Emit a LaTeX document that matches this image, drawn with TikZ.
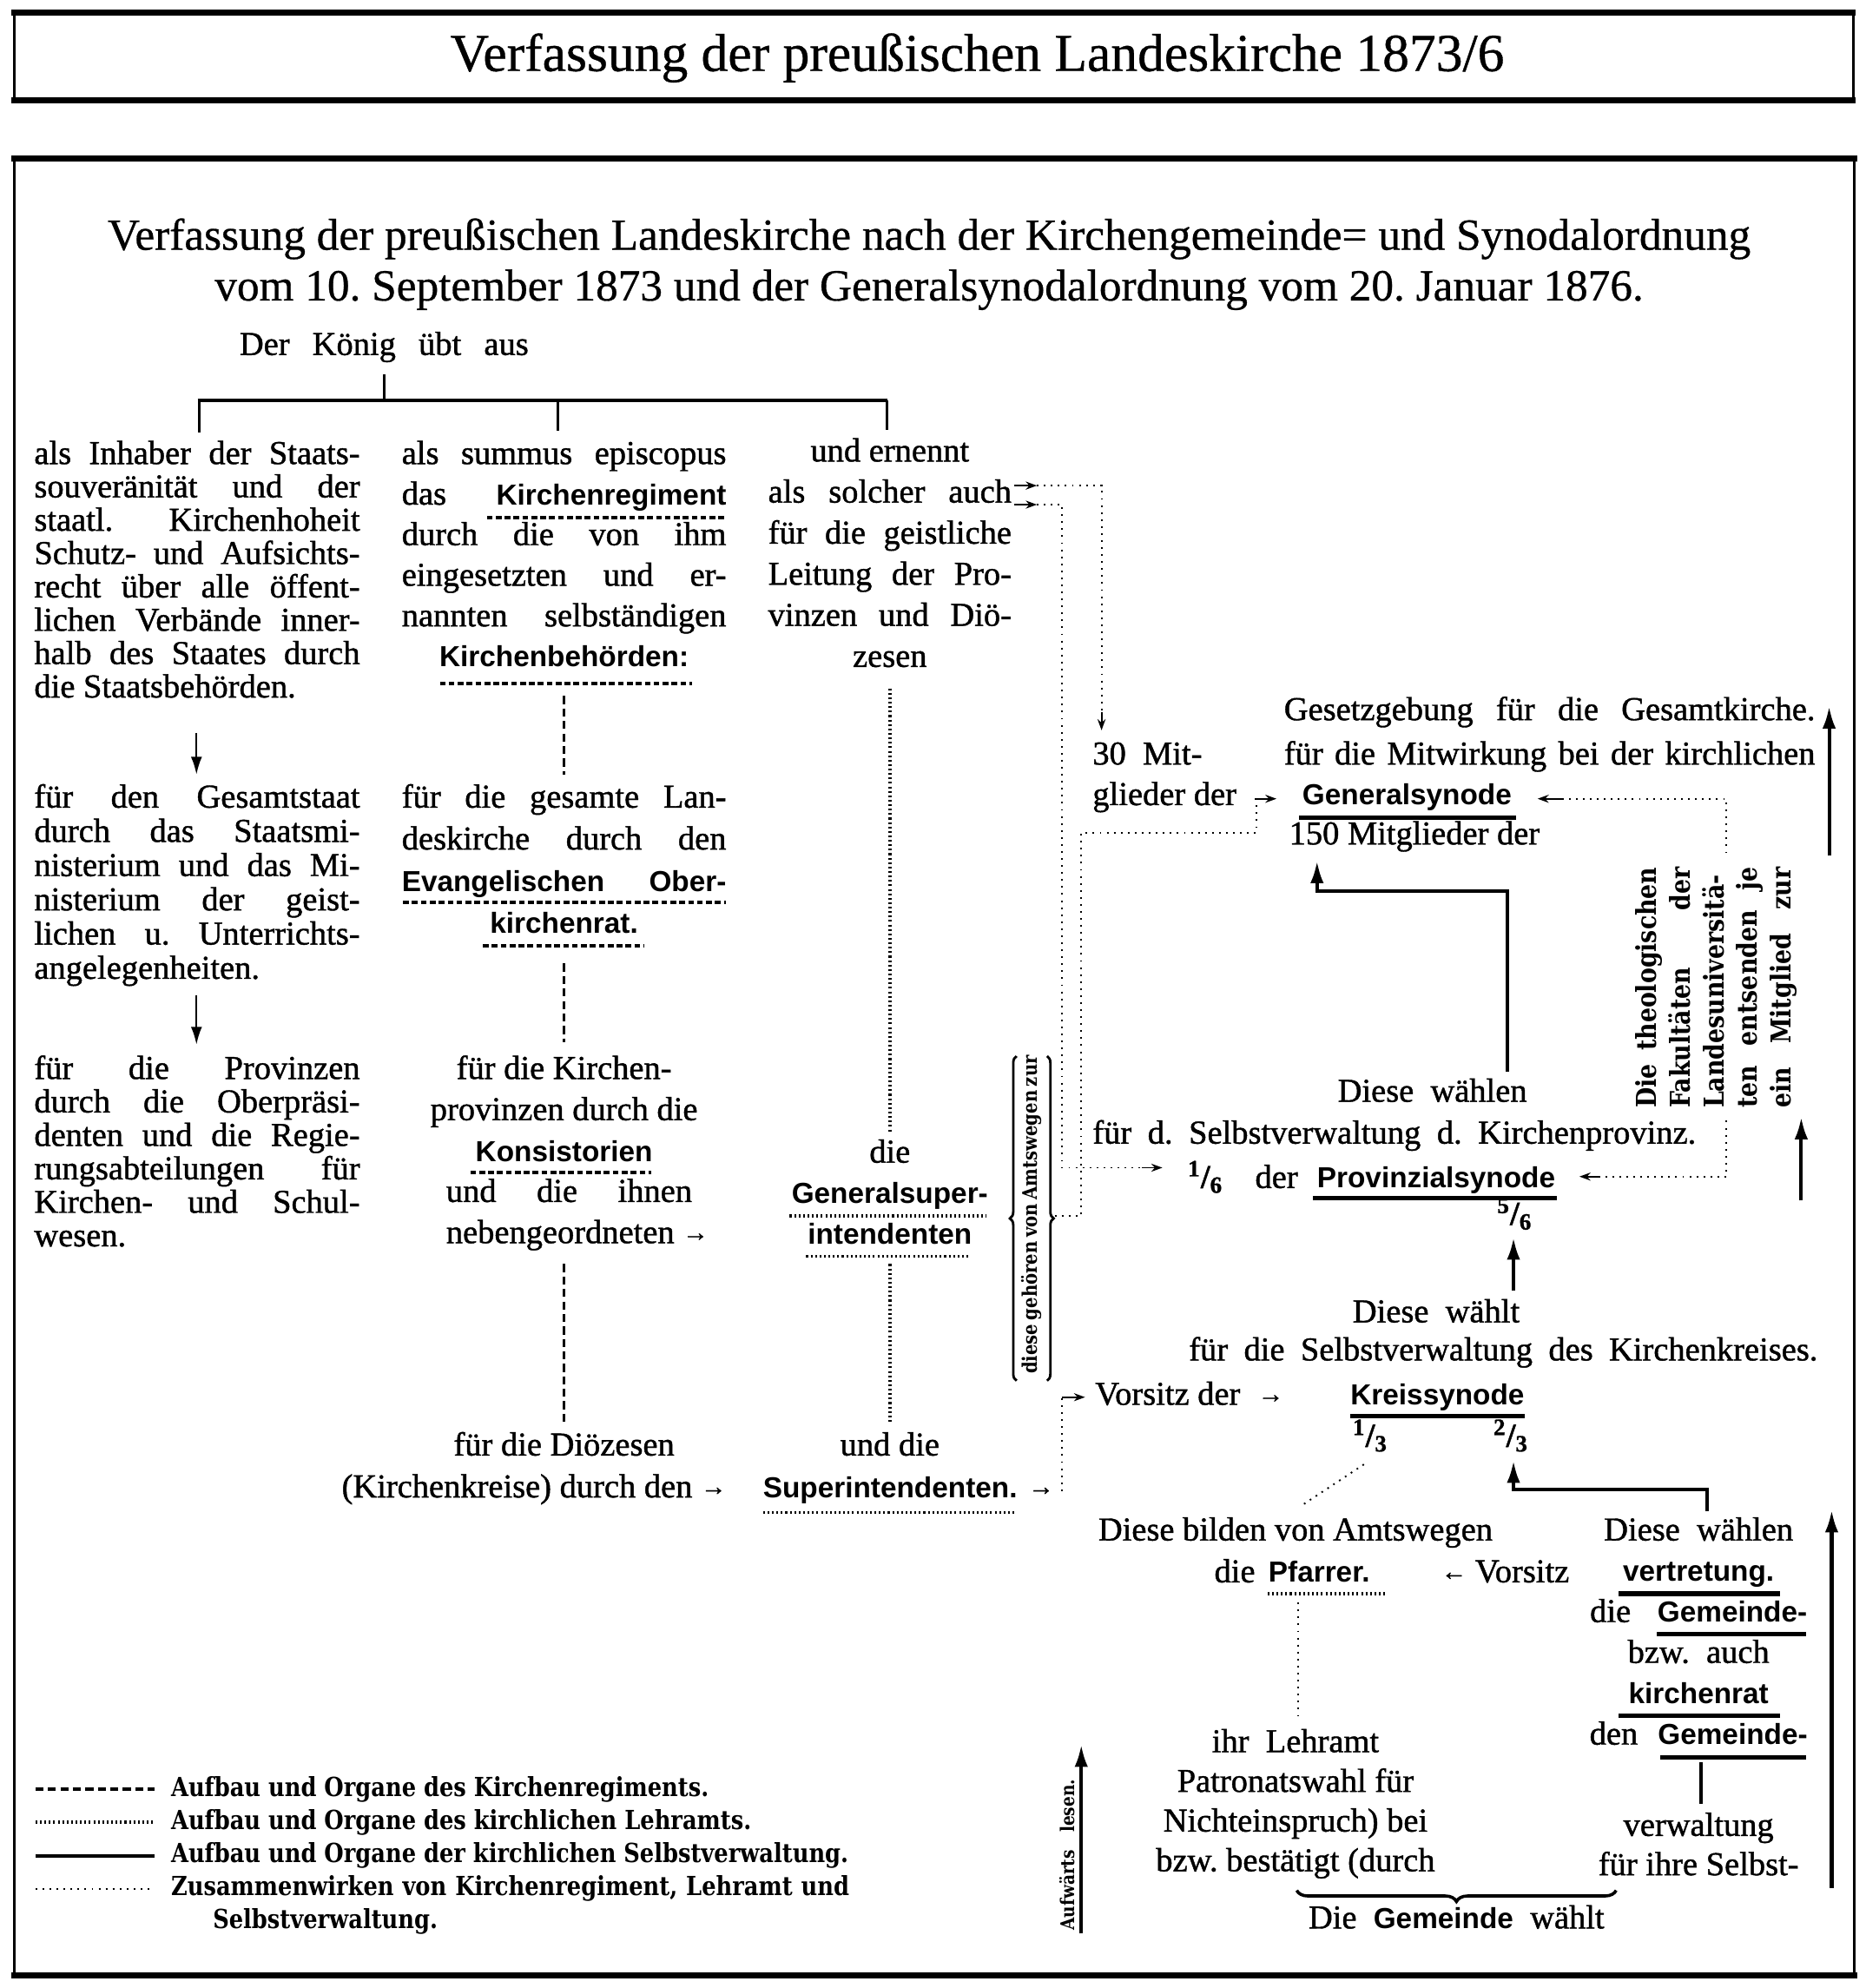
\documentclass[tikz,border=0pt]{standalone}
\usepackage{fontspec}
\setmainfont{Liberation Serif}[FakeBold=1.1]
\newfontfamily\titlef{Liberation Serif}[FakeBold=0.6]
\newfontfamily\grot{Liberation Sans}
\newfontfamily\clar[FakeStretch=0.85]{DejaVu Serif}
\usetikzlibrary{arrows.meta,decorations.pathreplacing}
\frenchspacing
\newlength\SU \setlength\SU{0.02cm}
\newcommand\Jl[2]{\hbox to #1\SU{#2}}
\newcommand\Ll[2]{\hbox to #1\SU{#2\hfil}}
\newcommand\Cl[2]{\hbox to #1\SU{\hfil#2\hfil}}
\newcommand\blk[2]{\vtop{\baselineskip=#1\SU\lineskiplimit=-\maxdimen\lineskip=0pt\relax#2}}
\newcommand\bw[1]{{\grot\bfseries\fontsize{13}{15}\selectfont#1}}
\newcommand\ra{\raisebox{1pt}{\fontsize{11.5}{11.5}\selectfont →}}
\newcommand\la{\raisebox{1pt}{\fontsize{11.5}{11.5}\selectfont ←}}
\newcommand\fr[2]{{\bfseries\textsuperscript{#1}/\textsubscript{#2}}}
\tikzset{
  tx/.style={inner sep=0pt,outer sep=0pt,font=\fontsize{15}{17}\selectfont},
  txb/.style={tx,anchor=base},
  txw/.style={tx,anchor=base west},
  txe/.style={tx,anchor=base east},
  rotx/.style={inner sep=0pt,outer sep=0pt,rotate=90,font=\clar\bfseries\fontsize{#1}{#1}\selectfont},
  rg/.style={line width=1.1pt,dash pattern=on 3.6pt off 2pt},
  rgu/.style={line width=1.6pt,dash pattern=on 2.6pt off 1.4pt},
  lehr/.style={line width=1.4pt,dash pattern=on 0.8pt off 1.2pt},
  zus/.style={line width=0.75pt,dash pattern=on 0.75pt off 2.4pt},
  sv/.style={line width=1.6pt},
  svu/.style={line width=2pt},
  uparr/.style={-{Latex[length=10pt,width=6pt]}},
  thinarr/.style={line width=0.9pt,-{Latex[length=8pt,width=5pt]}},
  smallarr/.style={line width=0.7pt,-{Stealth[length=5pt,width=3.6pt]}},
  heavy/.style={line width=2.6pt},
  frameside/.style={line width=1.2pt},
  brc/.style={line width=1.1pt,decorate,decoration={brace,amplitude=#1}},
}
\begin{document}
\begin{tikzpicture}[x=0.02cm,y=-0.02cm]
\useasboundingbox (0,0) rectangle (1472,1568);
% ---------- frames
\draw[frameside] (11,10) -- (11,79) (1462,10) -- (1462,79);
\draw[heavy] (9,10) -- (1464,10) (9,79) -- (1464,79);
\node[txb,font=\titlef\fontsize{24}{24}\selectfont] (title) at (771,56) {Verfassung der preußischen Landeskirche 1873/6};
\draw[frameside] (11,125) -- (11,1558) (1463,125) -- (1463,1558);
\draw[heavy] (9,125) -- (1465,125) (9,1558) -- (1465,1558);
\node[txb,font=\titlef\fontsize{20}{20}\selectfont] (sub) at (733,197) {\blk{40}{\Cl{1340}{Verfassung der preußischen Landeskirche nach der Kirchengemeinde= und Synodalordnung}\Cl{1340}{vom 10. September 1873 und der Generalsynodalordnung vom 20. Januar 1876.}}};
% ---------- king
\node[txb] (koenig) at (303,280) {\Jl{228}{Der König übt aus}};
\coordinate (kj) at (303,316);
\draw[line width=1.1pt] (303,295) -- (kj);
\draw[line width=1.6pt] (156,316) -- (700,316);
\draw[line width=1.1pt] (157,316) -- (157,341) (440,316) -- (440,340) (700,316) -- (700,339);
% ---------- column A
\node[txw] (a1) at (27,366) {\blk{26.3}{\Jl{257}{als Inhaber der Staats-}\Jl{257}{souveränität und der}\Jl{257}{staatl. Kirchenhoheit}\Jl{257}{Schutz- und Aufsichts-}\Jl{257}{recht über alle öffent-}\Jl{257}{lichen Verbände inner-}\Jl{257}{halb des Staates durch}\Ll{257}{die Staatsbehörden.}}};
\draw[thinarr] (155,578) -- (155,611);
\node[txw] (a2) at (27,637) {\blk{27}{\Jl{257}{für den Gesamtstaat}\Jl{257}{durch das Staatsmi-}\Jl{257}{nisterium und das Mi-}\Jl{257}{nisterium der geist-}\Jl{257}{lichen u. Unterrichts-}\Ll{257}{angelegenheiten.}}};
\draw[thinarr] (155,785) -- (155,824);
\node[txw] (a3) at (27,851) {\blk{26.4}{\Jl{257}{für die Provinzen}\Jl{257}{durch die Oberpräsi-}\Jl{257}{denten und die Regie-}\Jl{257}{rungsabteilungen für}\Jl{257}{Kirchen- und Schul-}\Ll{257}{wesen.}}};
% ---------- column B
\node[txw] (b1) at (317,366) {\blk{32}{\Jl{256}{als summus episcopus}\Jl{256}{das \bw{Kirchenregiment}}\Jl{256}{durch die von ihm}\Jl{256}{eingesetzten und er-}\Jl{256}{nannten selbständigen}\Cl{256}{\bw{Kirchenbehörden:}}}};
\draw[rgu] (384,408) -- (573,408);
\draw[rgu] (347,539) -- (546,539);
\draw[rg] (445,549) -- (445,611);
\node[txw] (b2) at (317,637) {\blk{33}{\Jl{256}{für die gesamte Lan-}\Jl{256}{deskirche durch den}\Jl{256}{\bw{Evangelischen Ober-}}\Cl{256}{\bw{kirchenrat.}}}};
\draw[rgu] (318,712) -- (573,712);
\draw[rgu] (381,746) -- (508,746);
\draw[rg] (445,760) -- (445,822);
\node[txb] (b3) at (445,851) {\blk{32.5}{\Cl{256}{für die Kirchen-}\Cl{256}{provinzen durch die}\Cl{256}{\bw{Konsistorien}}}};
\draw[rgu] (371,925) -- (514,925);
\node[txw] (b3b) at (352,948) {\blk{32.5}{\Jl{194}{und die ihnen}\Ll{230}{nebengeordneten \ra}}};
\draw[rg] (445,997) -- (445,1123);
\node[txb] (b4) at (445,1148) {für die Diözesen};
\node[txe] (b4b) at (573,1181) {(Kirchenkreise) durch den \ra};
% ---------- column C
\node[txw] (c1) at (606,364) {\blk{32.4}{\Cl{192}{und ernennt}\Jl{192}{als solcher auch}\Jl{192}{für die geistliche}\Jl{192}{Leitung der Pro-}\Jl{192}{vinzen und Diö-}\Cl{192}{zesen}}};
\draw[lehr] (702,543) -- (702,893);
\node[txb] (gsi) at (702,917) {\blk{32}{\Cl{200}{die}\Cl{200}{\bw{Generalsuper-}}\Cl{200}{\bw{intendenten}}}};
\draw[lehr] (623,959) -- (778,959);
\draw[lehr] (636,991) -- (764,991);
\draw[lehr] (702,997) -- (702,1123);
\node[txb] (sup1) at (702,1148) {und die};
\node[txw] (sup2) at (602,1181) {\bw{Superintendenten.}\hspace{5pt}\ra};
\draw[lehr] (602,1193) -- (800,1193);
% ---------- bracket
\node[rotx=9] (amts) at (814,961) {\Jl{245}{diese gehören von Amtswegen zur}};
\draw[brc=3pt] (802,1089) -- (802,833);
\draw[brc=3pt] (826,833) -- (826,1089);
% ---------- collaboration connectors
\draw[smallarr] (800,383) -- (818,383);
\draw[smallarr] (800,398) -- (818,398);
\draw[zus] (818,383) -- (869,383) -- (869,566);
\draw[smallarr] (869,562) -- (869,576);
\draw[zus] (818,398) -- (838,398) -- (838,921) -- (902,921);
\draw[smallarr] (901,921) -- (917,921);
\draw[zus] (832,959) -- (853,959) -- (853,657) -- (991,657) -- (991,631);
\draw[smallarr] (990,630) -- (1007,630);
\draw[zus] (838,1176) -- (838,1102);
\draw[smallarr] (838,1102) -- (856,1102);
% ---------- Generalsynode
\node[txw] (mit30) at (862,603) {\blk{32}{\Ll{130}{30\ \ Mit-}\Ll{130}{glieder der}}};
\node[txw] (gesetz) at (1013,568) {\blk{35}{\Jl{419}{Gesetzgebung für die Gesamtkirche.}\Jl{419}{für die Mitwirkung bei der kirchlichen}}};
\node[txb] (gensyn) at (1110,635) {\bw{Generalsynode}};
\draw[svu] (1025,645) -- (1196,645);
\node[txw] (m150) at (1017,666) {150 Mitglieder der};
\draw[zus] (1362,673) -- (1362,630) -- (1232,630);
\draw[smallarr] (1232,630) -- (1213,630);
\draw[sv,uparr] (1443,675) -- (1443,557);
% ---------- theological faculties
\node[rotx=12.3] (theol) at (1354,779) {\blk{26.5}{\Jl{190}{Die theologischen}\Jl{190}{Fakultäten der}\Jl{190}{Landesuniversitä-}\Jl{190}{ten entsenden je}\Jl{190}{ein Mitglied zur}}};
% ---------- Provinzialsynode
\node[txb] (dw1) at (1130,869) {Diese\ \ wählen};
\draw[sv,uparr] (1189,845) |- (1039,703) -- (1039,679);
\node[txw] (selbstprov) at (862,902) {\Jl{476}{für d. Selbstverwaltung d. Kirchenprovinz.}};
\node[txb] (f16) at (951,937) {\fr{1}{6}};
\node[txb] (der16) at (1007,937) {der};
\node[txb] (provsyn) at (1133,937) {\bw{Provinzialsynode}};
\draw[svu] (1036,945) -- (1228,945);
\node[txb] (f56) at (1195,966) {\fr{5}{6}};
\draw[zus] (1362,884) -- (1362,928) -- (1262,928);
\draw[smallarr] (1262,928) -- (1246,928);
\draw[sv,uparr] (1421,947) -- (1421,881);
\draw[sv,uparr] (1194,1018) -- (1194,976);
% ---------- Kreissynode
\node[txb] (dwk) at (1133,1043) {Diese\ \ wählt};
\node[txw] (selbstkr) at (938,1073) {\Jl{496}{für die Selbstverwaltung des Kirchenkreises.}};
\node[txw] (vors) at (864,1108) {Vorsitz der\hspace{8pt}\ra};
\node[txb] (kreissyn) at (1134,1108) {\bw{Kreissynode}};
\draw[svu] (1065,1117) -- (1203,1117);
\node[txb] (f13) at (1081,1141) {\fr{1}{3}};
\node[txb] (f23) at (1192,1141) {\fr{2}{3}};
\draw[zus] (1076,1155) -- (1026,1188);
\draw[sv,uparr] (1347,1192) |- (1194,1175) -- (1194,1152);
% ---------- Pfarrer
\node[txb] (bilden) at (1022,1215) {Diese bilden von Amtswegen};
\node[txw] (pfarrer) at (958,1248) {die\hspace{6pt}\bw{Pfarrer.}};
\draw[lehr] (1000,1257) -- (1093,1257);
\node[txw] (vors2) at (1137,1248) {\la\ Vorsitz};
\draw[zus] (1024,1264) -- (1024,1356);
\node[txb] (lehramt) at (1022,1382) {\blk{31.3}{\Cl{270}{ihr\ \ Lehramt}\Cl{270}{Patronatswahl für}\Cl{270}{Nichteinspruch) bei}\Cl{270}{bzw. bestätigt (durch}}};
\draw[brc=5pt,line width=1.4pt] (1275,1491) -- (1023,1491);
\node[txb] (gemw) at (1149,1521) {Die\ \ \bw{Gemeinde}\ \ wählt};
% ---------- Gemeindekirchenrat column
\node[txb] (rc1) at (1340,1215) {\blk{32.2}{\Cl{190}{Diese\ \ wählen}\Cl{190}{\bw{vertretung.}}\Cl{190}{die\hspace{12pt}\bw{Gemeinde-}}\Cl{190}{bzw.\ \ auch}\Cl{190}{\bw{kirchenrat}}\Cl{190}{den\hspace{9pt}\bw{Gemeinde-}}}};
\draw[svu] (1277,1257) -- (1404,1257);
\draw[svu] (1307,1289) -- (1425,1289);
\draw[svu] (1277,1353) -- (1404,1353);
\draw[svu] (1310,1386) -- (1425,1386);
\draw[sv] (1342,1390) -- (1342,1423);
\node[txb] (rc2) at (1340,1448) {\blk{31}{\Cl{190}{verwaltung}\Cl{190}{für ihre Selbst-}}};
\draw[sv,uparr] (1445,1489) -- (1445,1191);
% ---------- Aufwaerts lesen
\node[rotx=8.5] (aufw) at (842,1463) {\Jl{119}{Aufwärts lesen.}};
\draw[sv,uparr] (853,1525) -- (853,1376);
% ---------- legend
\draw[rg,line width=1.4pt] (28,1411) -- (122,1411);
\draw[lehr] (28,1437) -- (122,1437);
\draw[sv] (28,1464) -- (122,1464);
\draw[zus] (28,1490) -- (122,1490);
\node[txw,font=\clar\bfseries\fontsize{11.8}{11.8}\selectfont] (legend) at (135,1417) {\blk{26}{\Ll{540}{Aufbau und Organe des Kirchenregiments.}\Ll{540}{Aufbau und Organe des kirchlichen Lehramts.}\Ll{540}{Aufbau und Organe der kirchlichen Selbstverwaltung.}\Jl{535}{Zusammenwirken von Kirchenregiment, Lehramt und}\Ll{540}{\hspace*{33\SU}Selbstverwaltung.}}};
\end{tikzpicture}
\end{document}
